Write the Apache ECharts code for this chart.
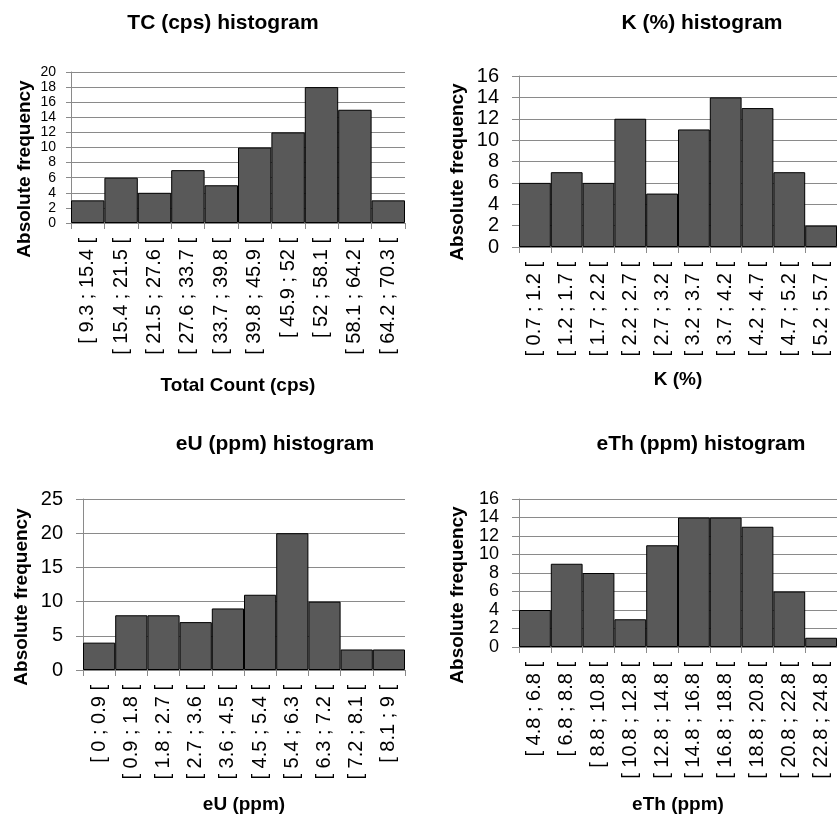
<!DOCTYPE html>
<html>
<head>
<meta charset="utf-8">
<script src="https://cdn.jsdelivr.net/npm/echarts@6/dist/echarts.min.js"></script>
<style>
html,body{margin:0;padding:0;background:#fff;}
#c{width:837px;height:815px;}
</style>
</head>
<body>
<div id="c"></div>
<script>
var tcCategories = ["[ 9.3 ; 15.4 [", "[ 15.4 ; 21.5 [", "[ 21.5 ; 27.6 [", "[ 27.6 ; 33.7 [", "[ 33.7 ; 39.8 [", "[ 39.8 ; 45.9 [", "[ 45.9 ; 52 [", "[ 52 ; 58.1 [", "[ 58.1 ; 64.2 [", "[ 64.2 ; 70.3 ["];
var tcValues = [3, 6, 4, 7, 5, 10, 12, 18, 15, 3];

var kCategories = ["[ 0.7 ; 1.2 [", "[ 1.2 ; 1.7 [", "[ 1.7 ; 2.2 [", "[ 2.2 ; 2.7 [", "[ 2.7 ; 3.2 [", "[ 3.2 ; 3.7 [", "[ 3.7 ; 4.2 [", "[ 4.2 ; 4.7 [", "[ 4.7 ; 5.2 [", "[ 5.2 ; 5.7 ["];
var kValues = [6, 7, 6, 12, 5, 11, 14, 13, 7, 2];

var euCategories = ["[ 0 ; 0.9 [", "[ 0.9 ; 1.8 [", "[ 1.8 ; 2.7 [", "[ 2.7 ; 3.6 [", "[ 3.6 ; 4.5 [", "[ 4.5 ; 5.4 [", "[ 5.4 ; 6.3 [", "[ 6.3 ; 7.2 [", "[ 7.2 ; 8.1 [", "[ 8.1 ; 9 ["];
var euValues = [4, 8, 8, 7, 9, 11, 20, 10, 3, 3];

var ethCategories = ["[ 4.8 ; 6.8 [", "[ 6.8 ; 8.8 [", "[ 8.8 ; 10.8 [", "[ 10.8 ; 12.8 [", "[ 12.8 ; 14.8 [", "[ 14.8 ; 16.8 [", "[ 16.8 ; 18.8 [", "[ 18.8 ; 20.8 [", "[ 20.8 ; 22.8 [", "[ 22.8 ; 24.8 ["];
var ethValues = [4, 9, 8, 3, 11, 14, 14, 13, 6, 1];

var titles = ["TC (cps) histogram", "K (%) histogram", "eU (ppm) histogram", "eTh (ppm) histogram"];
var xNames = ["Total Count (cps)", "K (%)", "eU (ppm)", "eTh (ppm)"];
var yName = "Absolute frequency";
var yMax = [20, 16, 25, 16];
var yInterval = [2, 2, 5, 2];

var cats = [tcCategories, kCategories, euCategories, ethCategories];
var vals = [tcValues, kValues, euValues, ethValues];

var FONT = "Liberation Sans";
var GRID_COLOR = "#8a8a8a";

var grids = [
  {left: 71, top: 72, width: 334, height: 151},
  {left: 519, top: 76, width: 320, height: 171},
  {left: 83, top: 499, width: 322, height: 171},
  {left: 519, top: 499, width: 320, height: 148}
];
var titlePos = [
  {x: 218, y: 8},
  {x: 697, y: 8},
  {x: 270, y: 429},
  {x: 696, y: 429}
];
var yLabelSize = [14, 20, 20, 18];
var yLabelMargin = [15, 20, 20, 20];
var yTickLen = [5, 7, 7, 7];
var xNameGap = [153, 123, 125, 148];
var yNamePos = [
  {x: 25, y: 169},
  {x: 458, y: 172},
  {x: 22, y: 597},
  {x: 458, y: 595}
];

var option = {
  animation: false,
  backgroundColor: "#fff",
  title: [],
  grid: [],
  xAxis: [],
  yAxis: [],
  series: [],
  graphic: []
};

for (var i = 0; i < 4; i++) {
  option.title.push({
    text: titles[i],
    left: titlePos[i].x,
    top: titlePos[i].y,
    textAlign: "center",
    textStyle: {fontFamily: FONT, fontWeight: "bold", fontSize: 21, color: "#000"}
  });
  option.grid.push({left: grids[i].left, top: grids[i].top, width: grids[i].width, height: grids[i].height, containLabel: false});
  option.xAxis.push({
    type: "category",
    gridIndex: i,
    data: cats[i],
    boundaryGap: true,
    name: xNames[i],
    nameLocation: "middle",
    nameGap: xNameGap[i],
    nameTextStyle: {fontFamily: FONT, fontWeight: "bold", fontSize: 19, color: "#000"},
    axisLine: {show: true, lineStyle: {color: GRID_COLOR, width: 1}},
    axisTick: {show: true, alignWithLabel: false, length: 6, lineStyle: {color: GRID_COLOR}},
    axisLabel: {interval: 0, rotate: 90, margin: 15, fontFamily: FONT, fontSize: 20, color: "#000", hideOverlap: false},
    splitLine: {show: false}
  });
  option.yAxis.push({
    type: "value",
    gridIndex: i,
    min: 0,
    max: yMax[i],
    interval: yInterval[i],
    axisLine: {show: true, lineStyle: {color: GRID_COLOR, width: 1}},
    axisTick: {show: true, length: yTickLen[i], lineStyle: {color: GRID_COLOR}},
    axisLabel: {margin: yLabelMargin[i], fontFamily: FONT, fontSize: yLabelSize[i], color: "#000",
      showMinLabel: true, showMaxLabel: true, hideOverlap: false, lineHeight: 6},
    splitLine: {show: true, lineStyle: {color: GRID_COLOR, width: 1}}
  });
  option.series.push({
    type: "bar",
    xAxisIndex: i,
    yAxisIndex: i,
    data: vals[i],
    barCategoryGap: "0%",
    itemStyle: {color: "#595959", borderColor: "#000", borderWidth: 1}
  });
  option.graphic.push({
    type: "text",
    x: yNamePos[i].x,
    y: yNamePos[i].y,
    rotation: Math.PI / 2,
    style: {text: yName, fontFamily: FONT, fontWeight: "bold", fontSize: 19, fill: "#000", align: "center", verticalAlign: "middle"}
  });
}

var chart = echarts.init(document.getElementById("c"), null, {renderer: "canvas"});
chart.setOption(option);
</script>
</body>
</html>
